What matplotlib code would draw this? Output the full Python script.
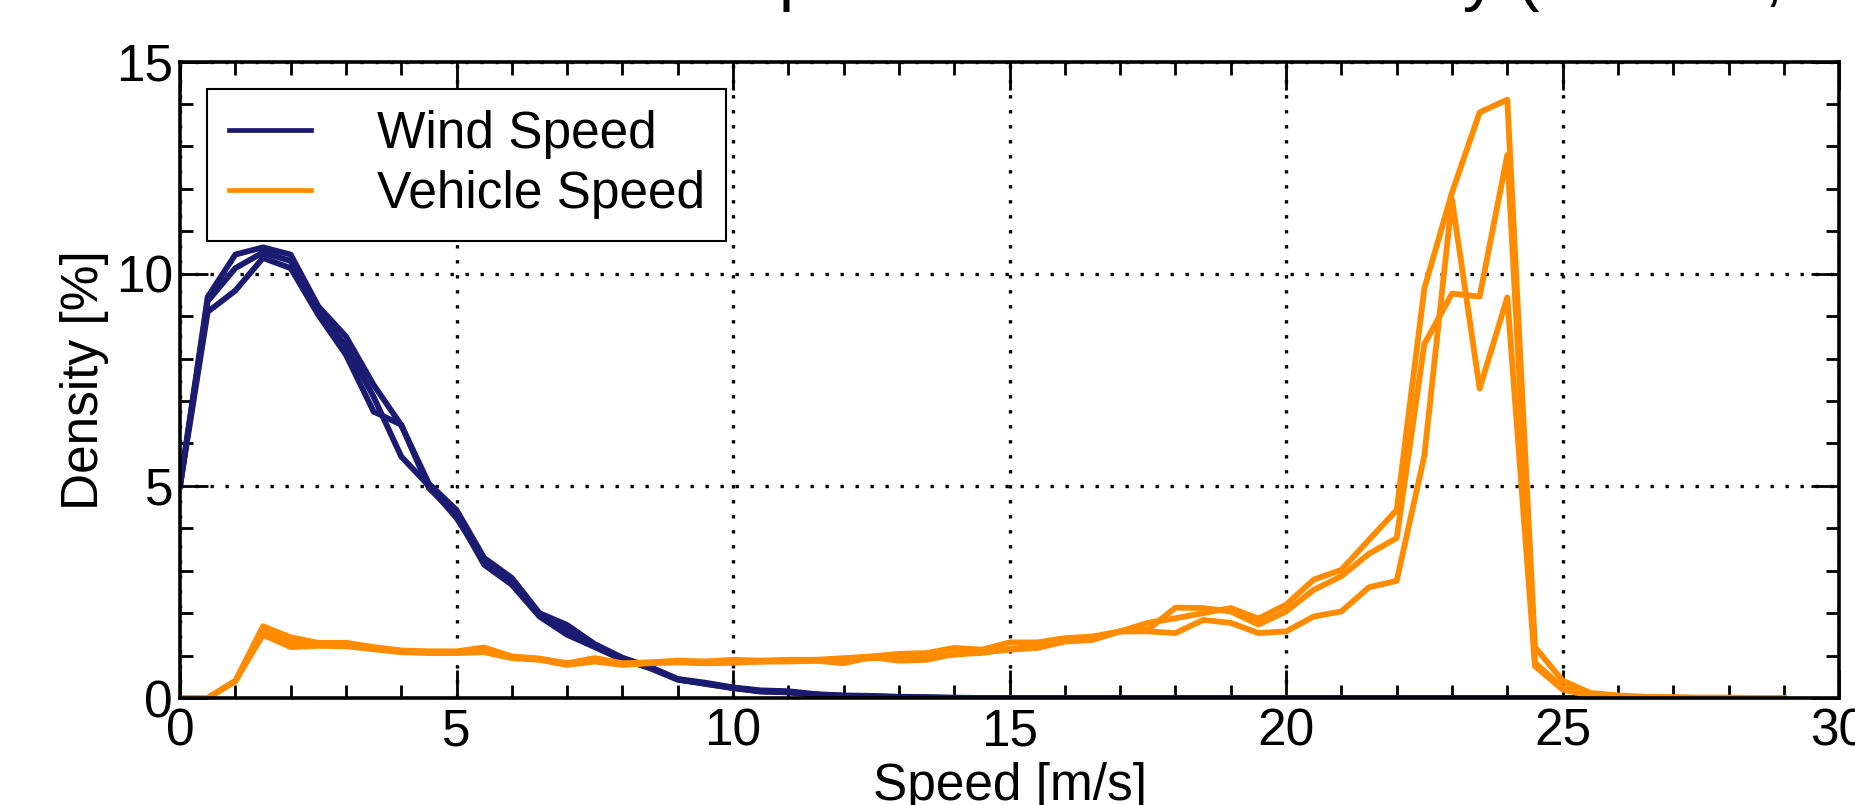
import numpy as np
import matplotlib
matplotlib.use("Agg")
import matplotlib.pyplot as plt
from matplotlib.ticker import MultipleLocator

plt.rcParams['font.family'] = ['Liberation Sans', 'DejaVu Sans']

# bin centres [m/s]
speed = [0.0, 0.5, 1.0, 1.5, 2.0, 2.5, 3.0, 3.5, 4.0, 4.5,
         5.0, 5.5, 6.0, 6.5, 7.0, 7.5, 8.0, 8.5, 9.0, 9.5,
         10.0, 10.5, 11.0, 11.5, 12.0, 12.5, 13.0, 13.5, 14.0, 14.5,
         15.0, 15.5, 16.0, 16.5, 17.0, 17.5, 18.0, 18.5, 19.0, 19.5,
         20.0, 20.5, 21.0, 21.5, 22.0, 22.5, 23.0, 23.5, 24.0, 24.5,
         25.0, 25.5, 26.0, 26.5, 27.0, 27.5, 28.0, 28.5, 29.0]

# wind speed density [%], three runs
wind_1 = [5.0, 9.45, 10.45, 10.62, 10.45, 9.23, 8.52, 7.38, 6.43, 5.05,
          4.43, 3.30, 2.83, 2.00, 1.72, 1.27, 0.95, 0.73, 0.45, 0.36,
          0.25, 0.18, 0.16, 0.09, 0.06, 0.05, 0.03, 0.02, 0.01, 0.0,
          0.0, 0.0, 0.0, 0.0, 0.0, 0.0, 0.0, 0.0, 0.0, 0.0,
          0.0, 0.0, 0.0, 0.0, 0.0, 0.0, 0.0, 0.0, 0.0, 0.0,
          0.0, 0.0, 0.0, 0.0, 0.0, 0.0, 0.0, 0.0, 0.0]
wind_2 = [5.0, 9.35, 10.13, 10.5, 10.3, 9.1, 8.3, 7.1, 5.69, 5.0,
          4.24, 3.22, 2.72, 1.95, 1.60, 1.22, 0.92, 0.70, 0.43, 0.34,
          0.23, 0.16, 0.13, 0.08, 0.05, 0.04, 0.02, 0.01, 0.0, 0.0,
          0.0, 0.0, 0.0, 0.0, 0.0, 0.0, 0.0, 0.0, 0.0, 0.0,
          0.0, 0.0, 0.0, 0.0, 0.0, 0.0, 0.0, 0.0, 0.0, 0.0,
          0.0, 0.0, 0.0, 0.0, 0.0, 0.0, 0.0, 0.0, 0.0]
wind_3 = [5.0, 9.1, 9.6, 10.37, 10.13, 9.03, 8.09, 6.75, 6.44, 4.95,
          4.30, 3.14, 2.67, 1.92, 1.49, 1.20, 0.90, 0.72, 0.44, 0.33,
          0.24, 0.15, 0.14, 0.08, 0.05, 0.03, 0.02, 0.01, 0.0, 0.0,
          0.0, 0.0, 0.0, 0.0, 0.0, 0.0, 0.0, 0.0, 0.0, 0.0,
          0.0, 0.0, 0.0, 0.0, 0.0, 0.0, 0.0, 0.0, 0.0, 0.0,
          0.0, 0.0, 0.0, 0.0, 0.0, 0.0, 0.0, 0.0, 0.0]

# vehicle speed density [%], three runs
vehicle_1 = [0.0, 0.0, 0.40, 1.69, 1.43, 1.30, 1.30, 1.20, 1.12, 1.10,
             1.10, 1.19, 0.98, 0.93, 0.82, 0.94, 0.82, 0.84, 0.88, 0.86,
             0.90, 0.88, 0.90, 0.90, 0.94, 0.98, 1.04, 1.06, 1.18, 1.14,
             1.31, 1.31, 1.41, 1.45, 1.57, 1.77, 1.88, 2.00, 2.12, 1.87,
             2.20, 2.79, 3.02, 3.73, 4.43, 9.65, 11.91, 13.8, 14.1, 1.20,
             0.41, 0.12, 0.06, 0.03, 0.02, 0.01, 0.01, 0.0, 0.0]
vehicle_2 = [0.0, 0.0, 0.40, 1.49, 1.20, 1.23, 1.22, 1.15, 1.08, 1.06,
             1.06, 1.08, 0.94, 0.90, 0.78, 0.86, 0.78, 0.82, 0.84, 0.82,
             0.83, 0.86, 0.86, 0.88, 0.90, 0.94, 0.95, 0.98, 1.02, 1.08,
             1.14, 1.18, 1.33, 1.37, 1.57, 1.61, 2.13, 2.12, 2.04, 1.73,
             2.04, 2.55, 2.87, 3.40, 3.77, 8.34, 9.53, 9.46, 12.8, 0.83,
             0.25, 0.08, 0.03, 0.02, 0.01, 0.0, 0.0, 0.0, 0.0]
vehicle_3 = [0.0, 0.0, 0.40, 1.60, 1.30, 1.25, 1.25, 1.18, 1.10, 1.08,
             1.08, 1.12, 0.96, 0.92, 0.80, 0.90, 0.80, 0.83, 0.86, 0.84,
             0.86, 0.86, 0.88, 0.88, 0.82, 0.96, 0.88, 0.90, 1.04, 1.06,
             1.16, 1.22, 1.35, 1.40, 1.57, 1.57, 1.53, 1.84, 1.77, 1.53,
             1.57, 1.92, 2.04, 2.61, 2.76, 5.71, 11.75, 7.29, 9.44, 0.75,
             0.20, 0.05, 0.02, 0.01, 0.0, 0.0, 0.0, 0.0, 0.0]

wind_runs = [wind_1, wind_2, wind_3]
vehicle_runs = [vehicle_1, vehicle_2, vehicle_3]

navy = '#1b1b72'
orange = '#ff8c00'
fs = 37

fig = plt.figure(figsize=(18.56, 8.05), dpi=100)
ax = fig.add_axes([0.0970, 0.1329, 0.8939, 0.7907])

for i, run in enumerate(wind_runs):
    ax.plot(speed, run, color=navy, lw=4.2,
            label='Wind Speed' if i == 0 else None)
for i, run in enumerate(vehicle_runs):
    ax.plot(speed, run, color=orange, lw=4.2,
            label='Vehicle Speed' if i == 0 else None)

ax.set_xlim(0, 30)
ax.set_ylim(0, 15)
ax.xaxis.set_major_locator(MultipleLocator(5))
ax.xaxis.set_minor_locator(MultipleLocator(1))
ax.yaxis.set_major_locator(MultipleLocator(5))
ax.yaxis.set_minor_locator(MultipleLocator(1))

ax.tick_params(which='both', direction='in', top=True, right=True,
               labelsize=fs, width=2.0, color='black')
ax.tick_params(which='major', length=20)
ax.tick_params(which='minor', length=9.5)
ax.tick_params(axis='x', pad=7)
ax.tick_params(axis='y', pad=5)
for sp in ax.spines.values():
    sp.set_linewidth(2.6)

ax.grid(True, which='major', color='black', lw=2.4, linestyle=(0, (1, 3.5)))

ax.set_xlabel('Speed [m/s]', fontsize=fs)
ax.xaxis.label.set_va('baseline')
ax.xaxis.set_label_coords(0.5, -0.160)
ax.set_ylabel('Density [%]', fontsize=fs)
ax.yaxis.set_label_coords(-0.043, 0.5)

leg = ax.legend(loc='upper left', bbox_to_anchor=(0.0163, 0.957),
                borderaxespad=0, fontsize=fs, fancybox=False, shadow=False,
                framealpha=1, edgecolor='black', borderpad=0.42,
                handlelength=1.6, handletextpad=1.28, labelspacing=0.21)
leg.get_frame().set_linewidth(1.5)
for h in leg.get_lines():
    h.set_linewidth(3.4)

# title sits above the visible area, only its lowest part shows
fig.text(489 / 1856, 1.0 + 2 / 805, 'Vehicle Speed and Wind Density (Vehicle, %)',
         fontsize=50, ha='left', va='baseline')

fig.savefig('out.png', dpi=100)
